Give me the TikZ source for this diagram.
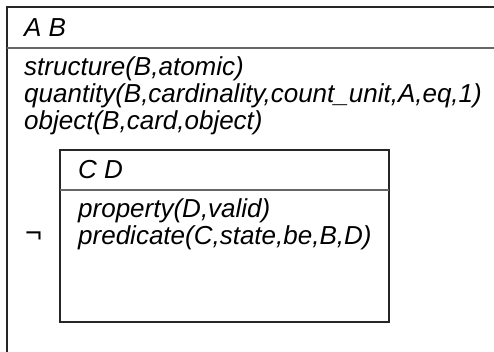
\documentclass[tikz,border=0pt]{standalone}
\usepackage{fontspec}
\setmainfont{Liberation Sans}
\begin{document}
\begin{tikzpicture}[x=1pt,y=-1pt,
  boxline/.style={line width=1.1pt, draw=black!85},
  sepline/.style={line width=1.1pt, draw=black!60},
  drstext/.style={anchor=base west, inner sep=0pt, font=\fontsize{26}{27}\selectfont\itshape},
  negtext/.style={anchor=base west, inner sep=0pt, font=\fontsize{29}{30}\selectfont}]
\useasboundingbox (0,0) rectangle (494,351);
\clip (0,0) rectangle (494,351);
% outer box (extends beyond the picture on the right and bottom)
\draw[boxline] (510,7) -- (7,7) -- (7,370);
\draw[sepline] (7,48) -- (510,48);
\node[drstext] (hdr) at (24,36) {A B};
\node[drstext] (c1) at (24,75) {structure(B,atomic)};
\node[drstext] (c2) at (24,102) {quantity(B,cardinality,count\_unit,A,eq,1)};
\node[drstext] (c3) at (24,129) {object(B,card,object)};
% negation
\node[negtext] (neg) at (25,242) {¬};
% inner box
\draw[boxline] (60,150) rectangle (389,322);
\draw[sepline] (60,190) -- (389,190);
\node[drstext] (ihdr) at (78,178) {C D};
\node[drstext] (i1) at (78,217) {property(D,valid)};
\node[drstext] (i2) at (78,244) {predicate(C,state,be,B,D)};
\end{tikzpicture}
\end{document}
